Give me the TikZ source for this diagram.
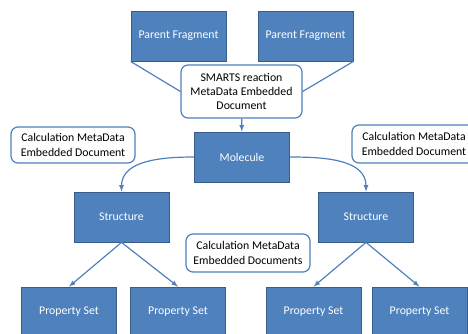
\documentclass[tikz,border=0pt]{standalone}
\usepackage{fontspec}
\setmainfont{Carlito}
\definecolor{xanh}{RGB}{79,129,189}
\definecolor{vienxanh}{RGB}{56,93,138}
\begin{document}
\begin{tikzpicture}[x=1pt,y=-1pt]
	\tikzset{
		every node/.style={font=\fontsize{11.8}{14.3}\selectfont},
		% khoi xanh
		khoi/.style={draw=vienxanh,fill=xanh,text=white,line width=.8pt,
			minimum width=95pt,minimum height=50pt,inner sep=0pt},
		% tai lieu
		tailieu/.style={draw=xanh,fill=white,line width=1.2pt,rounded corners=7pt,
			align=center,minimum width=124pt,inner sep=1pt},
		% mui ten
		muiten/.style={-latex,xanh,line width=1.2pt},
		noi/.style={xanh,line width=1.2pt},
	}
	\clip (0,0) rectangle (468,333);
	%
	\node[khoi] (pf1) at (178.5,36) {Parent Fragment};
	\node[khoi] (pf2) at (305.5,36) {Parent Fragment};
	\node[tailieu,minimum width=121pt,minimum height=53pt] (smarts) at (241.5,91.5) {SMARTS reaction\\MetaData Embedded\\Document};
	\node[khoi] (mol) at (242,157) {Molecule};
	\node[tailieu,minimum height=36pt] (cal1) at (73,145) {Calculation MetaData\\Embedded Document};
	\node[tailieu,minimum height=38pt] (cal2) at (414,144) {Calculation MetaData\\Embedded Document};
	\node[khoi] (st1) at (121.5,217) {Structure};
	\node[khoi] (st2) at (366,217) {Structure};
	\node[tailieu,minimum height=38pt] (cal3) at (248,253) {Calculation MetaData\\Embedded Documents};
	% property set
	\node[khoi] (ps1) at (69,312) {Property Set};
	\node[khoi] (ps2) at (178,312) {Property Set};
	\node[khoi] (ps3) at (313.5,312) {Property Set};
	\node[khoi] (ps4) at (419.5,312) {Property Set};
	%
	\draw[noi] (pf1.south west)--(smarts.west) (pf2.south east)--(smarts.east);
	\draw[muiten] (smarts)--(mol);
	\draw[muiten] (mol.west) to[out=180,in=90] (st1.north);
	\draw[muiten] (mol.east) to[out=0,in=90] (st2.north);
	\draw[muiten] (st1.south)--(ps1.north);
	\draw[muiten] (st1.south)--(ps2.north);
	\draw[muiten] (st2.south)--(ps3.north);
	\draw[muiten] (st2.south)--(ps4.north);
\end{tikzpicture}
\end{document}
